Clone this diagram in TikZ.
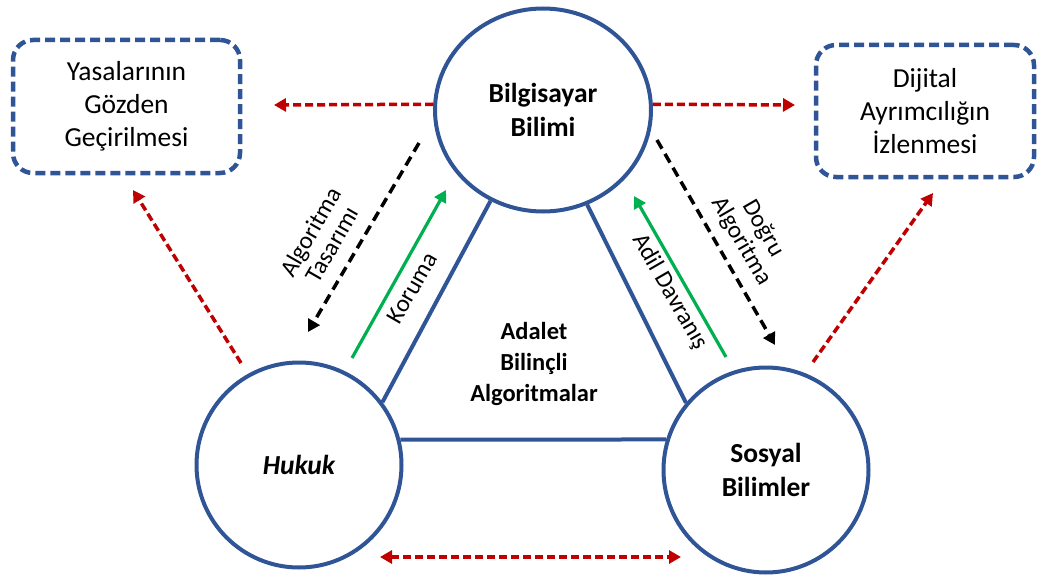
\documentclass[tikz,border=0pt]{standalone}
\usepackage{fontspec}
\setmainfont{Carlito}
\usetikzlibrary{arrows.meta,shapes.geometric}
\definecolor{nodeblue}{RGB}{47,85,151}
\definecolor{linkred}{RGB}{192,0,0}
\definecolor{linkgreen}{RGB}{0,176,80}
\begin{document}
\begin{tikzpicture}[x=1pt,y=-1pt,
  field/.style={circle, draw=nodeblue, line width=4pt, align=center, inner sep=0pt,
    minimum size=205pt, font=\fontsize{27.5}{34}\selectfont\bfseries},
  goalbox/.style={draw=nodeblue, line width=4.5pt, dash pattern=on 10pt off 5pt,
    rounded corners=20pt, align=center, inner sep=0pt,
    font=\fontsize{27.5}{33}\selectfont},
  side/.style={draw=nodeblue, line width=4pt},
  redlink/.style={draw=linkred, line width=3.5pt, dash pattern=on 8pt off 4pt,
    -{Triangle[length=12pt,width=13pt]}},
  blacklink/.style={draw=black, line width=3.5pt, dash pattern=on 10pt off 6pt,
    -{Triangle[length=12pt,width=13pt]}},
  greenlink/.style={draw=linkgreen, line width=3.2pt,
    -{Triangle[length=12pt,width=13pt]}},
  lbl/.style={align=center, inner sep=0pt, font=\fontsize{24.5}{25}\selectfont},
  midtext/.style={align=center, inner sep=0pt, font=\fontsize{24.5}{31}\selectfont\bfseries}]

\useasboundingbox (0,0) rectangle (1039,578);

% the three disciplines
\node[field, ellipse, minimum width=216pt, minimum height=203pt] (bb) at (543,110) {Bilgisayar\\Bilimi};
\node[field] (hk) at (299,465) {\itshape Hukuk};
\node[field] (ss) at (766,470) {Sosyal\\Bilimler};

% outcome boxes
\node[goalbox, minimum width=227pt, minimum height=133pt] (law) at (126.5,106.5) {Yasalarının\\Gözden\\Geçirilmesi};
\node[goalbox, minimum width=218pt, minimum height=132pt] (dig) at (925,111) {Dijital\\Ayrımcılığın\\İzlenmesi};

% triangle sides
\draw[side] (bb.240) -- (hk.37);
\draw[side] (bb.295) -- (ss.140);
\draw[side] (hk.14) -- (ss.163);

\node[midtext] (core) at (534,364) {Adalet\\Bilinçli\\Algoritmalar};

% free ends of the connectors
\coordinate (lawtip) at (274,105);
\coordinate (digtip) at (795,105);
\coordinate (ulstart) at (241,363);
\coordinate (ultip) at (133,190);
\coordinate (urstart) at (813,362);
\coordinate (urtip) at (933,193);
\coordinate (botl) at (380,557);
\coordinate (botr) at (681,557);
\coordinate (bkls) at (419,143);
\coordinate (bklt) at (308,332);
\coordinate (bkrs) at (657,140);
\coordinate (bkrt) at (775,345);
\coordinate (grls) at (352,358);
\coordinate (grlt) at (446,190);
\coordinate (grrs) at (726,357);
\coordinate (grrt) at (634,196);

% red links towards the outcomes
\draw[redlink] (bb.177) -- (lawtip);
\draw[redlink] (bb.3) -- (digtip);
\draw[redlink] (ulstart) -- (ultip);
\draw[redlink] (urstart) -- (urtip);
\draw[redlink, {Triangle[length=12pt,width=13pt]}-{Triangle[length=12pt,width=13pt]}] (botl) -- (botr);

% black and green flows
\draw[blacklink] (bkls) -- (bklt);
\draw[blacklink] (bkrs) -- (bkrt);
\draw[greenlink] (grls) -- (grlt);
\draw[greenlink] (grrs) -- (grrt);

\node[lbl, rotate=60] (design) at (321,238) {Algoritma\\Tasarımı};
\node[lbl, rotate=60] (protect) at (412,288) {Koruma};
\node[lbl, rotate=-60] (correct) at (752,235) {Doğru\\Algoritma};
\node[lbl, rotate=-60] (fair) at (670,292) {Adil Davranış};
\end{tikzpicture}
\end{document}
